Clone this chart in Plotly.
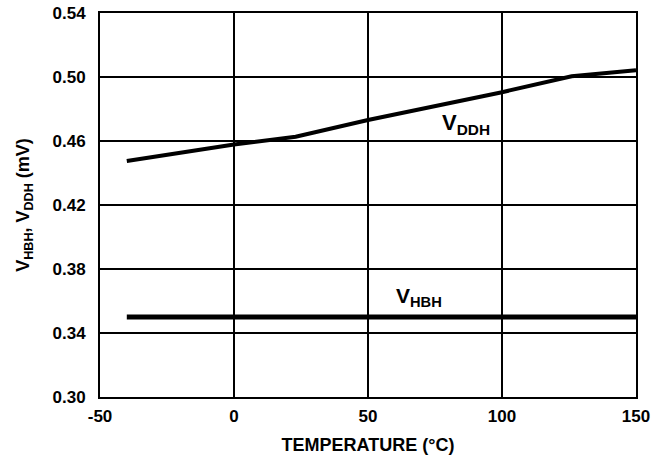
import plotly.graph_objects as go

vddh_t = [-40, 0, 23, 50, 100, 126, 150]
vddh_v = [0.4475, 0.4578, 0.4627, 0.4731, 0.4905, 0.5005, 0.5043]
vhbh_t = [-40, 150]
vhbh_v = [0.35, 0.35]
x_ticks = [-50, 0, 50, 100, 150]
y_ticks = [0.30, 0.34, 0.38, 0.42, 0.46, 0.50, 0.54]

fam = "Liberation Sans, Arial, sans-serif"
font = dict(family=fam, color="black", size=17)

fig = go.Figure()
fig.add_trace(go.Scatter(x=vddh_t, y=vddh_v, mode="lines",
                         line=dict(color="black", width=4), showlegend=False))
fig.add_trace(go.Scatter(x=vhbh_t, y=vhbh_v, mode="lines",
                         line=dict(color="black", width=5), showlegend=False))

fig.add_annotation(x=86.5, y=0.4705, text="<b>V<sub>DDH</sub></b>", showarrow=False,
                   font=dict(family=fam, size=22, color="black"))
fig.add_annotation(x=69, y=0.3625, text="<b>V<sub>HBH</sub></b>", showarrow=False,
                   font=dict(family=fam, size=21, color="black"))

fig.update_layout(
    width=668, height=461,
    margin=dict(l=100, r=32, t=13, b=64, autoexpand=False),
    paper_bgcolor="white", plot_bgcolor="white",
    font=font,
    xaxis=dict(range=[-50, 150], tickvals=x_ticks, ticktext=[f"<b>{v}</b>" for v in x_ticks],
               showgrid=True, gridcolor="black", gridwidth=2, zeroline=False, automargin=False,
               showline=True, linecolor="black", linewidth=2, mirror=True, ticks="",
               tickfont=dict(size=17), ticklabelstandoff=3,
               title=dict(text="<b>TEMPERATURE (°C)</b>", font=dict(size=18), standoff=13)),
    yaxis=dict(range=[0.30, 0.54], tickvals=y_ticks, ticktext=[f"<b>{v:.2f}</b>" for v in y_ticks],
               showgrid=True, gridcolor="black", gridwidth=2, zeroline=False, automargin=False,
               showline=True, linecolor="black", linewidth=2, mirror=True, ticks="",
               tickfont=dict(size=17), ticklabelstandoff=9,
               title=dict(text="<b>V<sub>HBH</sub>, V<sub>DDH</sub> (mV)</b>", font=dict(size=18), standoff=18)),
)
fig.write_html("out.html")
